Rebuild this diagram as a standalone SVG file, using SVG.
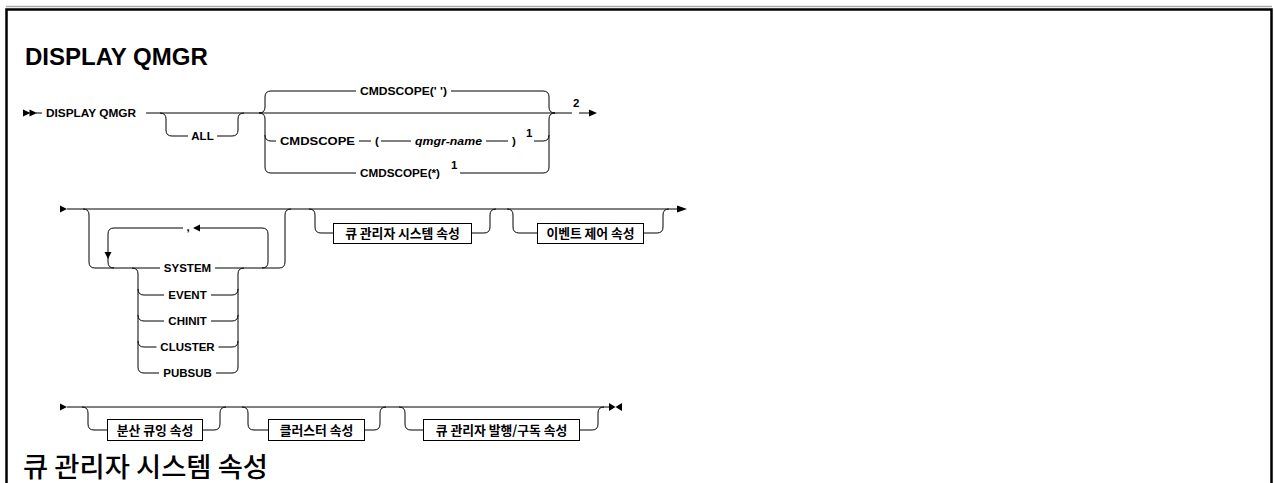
<svg xmlns="http://www.w3.org/2000/svg" width="1274" height="483" viewBox="0 0 1274 483">
<style>
.ln{fill:none;stroke:#000;stroke-width:1}
.ah{fill:#000;stroke:none}
.t{font-family:"Liberation Sans",Arial,sans-serif;font-weight:bold;font-size:11.5px;fill:#000}
.it{font-style:italic}
.c{text-anchor:middle}
.box{fill:#fff;stroke:#000;stroke-width:1}
.k{font-family:"Noto Sans CJK KR","Noto Sans",sans-serif;font-weight:bold;font-size:12.8px;fill:#000;text-anchor:middle}
.h1{font-family:"Liberation Sans",Arial,sans-serif;font-weight:bold;font-size:24px;fill:#000}
.h2{font-family:"Noto Sans CJK KR","Noto Sans",sans-serif;font-weight:500;font-size:27px;fill:#000}
</style>
<rect x="0" y="0" width="1274" height="483" fill="#fff"/>
<g id="frame">
<line x1="6" y1="6.5" x2="1272" y2="6.5" stroke="#aaa" stroke-width="1.5"/>
<path d="M6.5,490 V9.5 H1271.5 V490" fill="none" stroke="#000" stroke-width="2.5"/>
</g>
<text id="title" class="h1" x="25" y="65">DISPLAY QMGR</text>
<text id="heading" class="h2" x="23" y="477" textLength="245" lengthAdjust="spacingAndGlyphs">큐 관리자 시스템 속성</text>

<g id="connectors">
<!-- row 1 -->
<polygon class="ah" points="23,109.5 30.5,113 23,116.5"/>
<polygon class="ah" points="29.5,109.5 37,113 29.5,116.5"/>
<path class="ln" d="M36,113 H42"/>
<path class="ln" d="M146,113 H572 M579,113 H590"/>
<polygon class="ah" points="589,109.5 597,113 589,116.5"/>
<path class="ln" d="M160,113 Q166,113 166,119 V130 Q166,136 172,136 H188 M217,136 H232 Q238,136 238,130 V119 Q238,113 244,113"/>
<path class="ln" d="M259,113 Q265,113 265,107 V97 Q265,91 271,91 H356 M451,91 H543 Q549,91 549,97 V107 Q549,113 555,113"/>
<path class="ln" d="M259,113 Q265,113 265,119 V135 Q265,141 271,141 H276 M359,141 H371 M381,141 H411 M486,141 H508 M534,141 H543 Q549,141 549,135 V119 Q549,113 555,113"/>
<path class="ln" d="M265,135 V167 Q265,173 271,173 H356 M460,173 H543 Q549,173 549,167 V135"/>
<!-- row 2 -->
<polygon class="ah" points="60,205.5 67,209 60,212.5"/>
<path class="ln" d="M67,209 H678"/>
<polygon class="ah" points="677,205.5 687,209 677,212.5"/>
<path class="ln" d="M83,209 Q89,209 89,215 V262 Q89,268 95,268 H160 M215,268 H279 Q285,268 285,262 V215 Q285,209 291,209"/>
<path class="ln" d="M114,268 Q108,268 108,262 V234 Q108,228 114,228 H183 M199,228 H262 Q268,228 268,234 V262 Q268,268 262,268"/>
<polygon class="ah" points="200,224.5 193,228 200,231.5"/>
<polygon class="ah" points="104.5,252 111.5,252 108,259"/>
<path class="ln" d="M132,268 Q138,268 138,274 V367 Q138,373 144,373 H159 M138,289 Q138,295 144,295 H164 M138,315 Q138,321 144,321 H164 M138,341 Q138,347 144,347 H156.5"/>
<path class="ln" d="M244,268 Q238,268 238,274 V367 Q238,373 232,373 H216 M238,289 Q238,295 232,295 H211 M238,315 Q238,321 232,321 H211 M238,341 Q238,347 232,347 H218.5"/>
<path class="ln" d="M309,209 Q315,209 315,215 V227 Q315,233 321,233 H333 M472,233 H484 Q490,233 490,227 V215 Q490,209 496,209"/>
<path class="ln" d="M507,209 Q513,209 513,215 V227 Q513,233 519,233 H537 M644,233 H657 Q663,233 663,227 V215 Q663,209 669,209"/>
<!-- row 3 -->
<polygon class="ah" points="60,403.5 67,407 60,410.5"/>
<path class="ln" d="M67,407 H610"/>
<polygon class="ah" points="609,403 615.5,407 609,411"/>
<polygon class="ah" points="622,403 615.5,407 622,411"/>
<path class="ln" d="M82,407 Q88,407 88,413 V424 Q88,430 94,430 H107 M203,430 H214 Q220,430 220,424 V413 Q220,407 226,407"/>
<path class="ln" d="M242,407 Q248,407 248,413 V424 Q248,430 254,430 H268 M365,430 H374 Q380,430 380,424 V413 Q380,407 386,407"/>
<path class="ln" d="M399,407 Q405,407 405,413 V424 Q405,430 411,430 H423 M580,430 H592 Q598,430 598,424 V413 Q598,407 604,407"/>
</g>

<g id="n-display"><text class="t" x="46" y="117" textLength="90" lengthAdjust="spacingAndGlyphs">DISPLAY QMGR</text></g>
<g id="n-all"><text class="t c" x="202.5" y="140">ALL</text></g>
<g id="n-cmdscope-blank"><text class="t" x="360" y="95" textLength="87" lengthAdjust="spacingAndGlyphs">CMDSCOPE(' ')</text></g>
<g id="n-cmdscope-qmgr">
<text class="t" x="280" y="145" textLength="75" lengthAdjust="spacingAndGlyphs">CMDSCOPE</text>
<text class="t" x="375" y="145">(</text>
<text class="t it" x="415" y="145" textLength="67" lengthAdjust="spacingAndGlyphs">qmgr-name</text>
<text class="t" x="512" y="145">)</text>
<text class="t" x="526" y="137">1</text>
</g>
<g id="n-cmdscope-star">
<text class="t" x="360" y="177" textLength="80" lengthAdjust="spacingAndGlyphs">CMDSCOPE(*)</text>
<text class="t" x="451" y="169">1</text>
</g>
<g id="n-note2"><text class="t" x="573" y="107">2</text></g>
<g id="n-comma"><text class="t c" x="188" y="231">,</text></g>
<g id="n-system"><text class="t c" x="187.5" y="272">SYSTEM</text></g>
<g id="n-event"><text class="t c" x="187.5" y="299">EVENT</text></g>
<g id="n-chinit"><text class="t c" x="187.5" y="325">CHINIT</text></g>
<g id="n-cluster"><text class="t c" x="187.5" y="351">CLUSTER</text></g>
<g id="n-pubsub"><text class="t c" x="187.5" y="377">PUBSUB</text></g>
<g id="n-qmgr-sys"><rect class="box" x="333.5" y="223.5" width="138" height="20"/><text class="k" x="402.5" y="238">큐 관리자 시스템 속성</text></g>
<g id="n-event-ctl"><rect class="box" x="537.5" y="223.5" width="106" height="20"/><text class="k" x="590.5" y="238">이벤트 제어 속성</text></g>
<g id="n-dist-q"><rect class="box" x="107.5" y="419.5" width="95" height="21"/><text class="k" x="155" y="434.5">분산 큐잉 속성</text></g>
<g id="n-cluster-attr"><rect class="box" x="268.5" y="419.5" width="96" height="21"/><text class="k" x="316.5" y="434.5">클러스터 속성</text></g>
<g id="n-pubsub-attr"><rect class="box" x="423.5" y="419.5" width="156" height="21"/><text class="k" x="501.5" y="434.5">큐 관리자 발행/구독 속성</text></g>
</svg>
